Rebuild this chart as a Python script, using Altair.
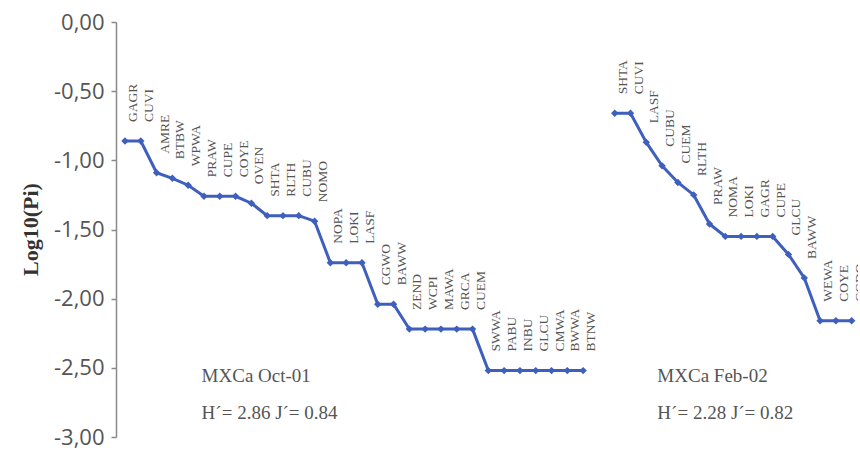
import altair as alt
import pandas as pd

# Oct-01 sample (left series)
oct_species = ["GAGR", "CUVI", "AMRE", "BTBW", "WPWA", "PRAW", "CUPE", "COYE", "OVEN",
               "SHTA", "RLTH", "CUBU", "NOMO", "NOPA", "LOKI", "LASF", "CGWO", "BAWW",
               "ZEND", "WCPI", "MAWA", "GRCA", "CUEM", "SWWA", "PABU", "INBU", "GLCU",
               "CMWA", "BWWA", "BTNW"]
oct_values = [-0.86, -0.86, -1.09, -1.13, -1.18, -1.26, -1.26, -1.26, -1.31,
              -1.40, -1.40, -1.40, -1.44, -1.74, -1.74, -1.74, -2.04, -2.04,
              -2.22, -2.22, -2.22, -2.22, -2.22, -2.52, -2.52, -2.52, -2.52,
              -2.52, -2.52, -2.52]

# Feb-02 sample (right series)
feb_species = ["SHTA", "CUVI", "LASF", "CUBU", "CUEM", "RLTH", "PRAW", "NOMA", "LOKI",
               "GAGR", "CUPE", "GLCU", "BAWW", "WEWA", "COYE", "CGDO"]
feb_values = [-0.66, -0.66, -0.87, -1.04, -1.16, -1.25, -1.46, -1.55, -1.55,
              -1.55, -1.55, -1.68, -1.85, -2.16, -2.16, -2.16]

series_names = ["MXCa Oct-01", "MXCa Feb-02"]
index_stats = ["H\u00b4= 2.86  J\u00b4= 0.84", "H\u00b4= 2.28  J\u00b4= 0.82"]

y_ticks = [0.0, -0.5, -1.0, -1.5, -2.0, -2.5, -3.0]

rows = []
for i, (s, v) in enumerate(zip(oct_species, oct_values)):
    rows.append({"idx": i, "val": v, "sp": s, "series": series_names[0]})
start2 = len(oct_species) + 1
for i, (s, v) in enumerate(zip(feb_species, feb_values)):
    rows.append({"idx": start2 + i, "val": v, "sp": s, "series": series_names[1]})
df = pd.DataFrame(rows)

ann = pd.DataFrame({
    "idx": [4.85, 4.85, 33.7, 33.7],
    "val": [-2.56, -2.83, -2.56, -2.83],
    "txt": [series_names[0], index_stats[0], series_names[1], index_stats[1]],
})

blue = "#3f5fbe"
xscale = alt.Scale(domain=[-0.57, 46.4], nice=False, zero=False)
yscale = alt.Scale(domain=[-3, 0], nice=False, zero=False)

base = alt.Chart(df)

line = base.mark_line(color=blue, strokeWidth=3).encode(
    x=alt.X("idx:Q", scale=xscale, axis=None),
    y=alt.Y("val:Q", scale=yscale,
            axis=alt.Axis(values=y_ticks, title="Log10(Pi)",
                          labelExpr="replace(replace(format(datum.value, '.2f'), '.', ','), '\u2212', '-')",
                          grid=False, tickSize=5, tickColor="#8a8a8a", tickWidth=1.5,
                          domainColor="#8a8a8a", domainWidth=1.5,
                          labelFont="Open Sans", labelFontSize=22, labelColor="#555555",
                          labelPadding=7,
                          titleFont="Liberation Serif", titleFontSize=22,
                          titleFontWeight="bold", titleColor="#333333",
                          titleX=-74, titleY=207, titleAngle=270)),
    detail="series:N",
)

pts = base.mark_point(shape="diamond", filled=True, color=blue, size=55, opacity=1).encode(
    x=alt.X("idx:Q", scale=xscale),
    y=alt.Y("val:Q", scale=yscale),
)

labels = base.mark_text(angle=270, align="left", baseline="middle", dx=19, dy=8,
                        font="Liberation Serif", fontSize=13.5, color="#555555",
                        clip=True).encode(
    x=alt.X("idx:Q", scale=xscale),
    y=alt.Y("val:Q", scale=yscale),
    text="sp:N",
)

notes = alt.Chart(ann).mark_text(align="left", baseline="middle",
                                 font="Liberation Serif", fontSize=19,
                                 color="#555555").encode(
    x=alt.X("idx:Q", scale=xscale),
    y=alt.Y("val:Q", scale=yscale),
    text="txt:N",
)

chart = alt.layer(line, pts, labels, notes).properties(
    width=742, height=415,
    autosize=alt.AutoSizeParams(type="none"),
    padding={"left": 116, "top": 22, "right": 2, "bottom": 14},
    background="white",
).configure_view(stroke=None)

chart.save("out.html", embed_options={"renderer": "svg", "actions": False})
